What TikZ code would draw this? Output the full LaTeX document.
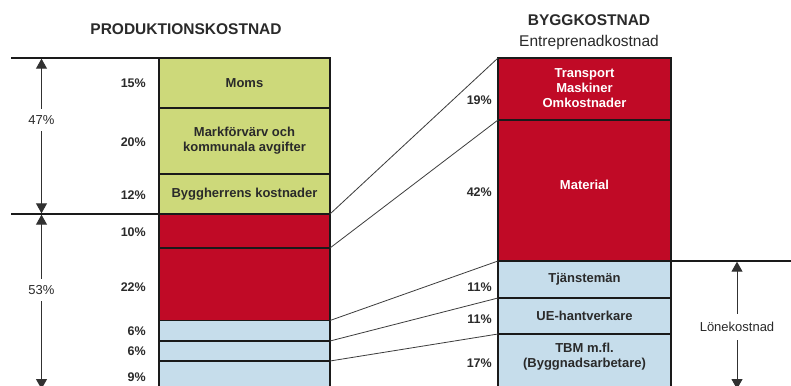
\documentclass[tikz,border=0pt]{standalone}
\usepackage{fontspec}
\setmainfont{Liberation Sans}
\usetikzlibrary{arrows.meta}
\definecolor{cgreen}{HTML}{CDD97A}
\definecolor{cred}{HTML}{C00A26}
\definecolor{cblue}{HTML}{C6DDEB}
\definecolor{cline}{HTML}{1A1A1A}
\definecolor{ctext}{HTML}{2A2A2A}
\begin{document}
\begin{tikzpicture}[x=1pt,y=-1pt,
  box/.style={draw=cline, line width=1.3pt, anchor=north west, inner sep=0pt, outer sep=0pt,
    align=center, font=\fontsize{13}{15}\selectfont\bfseries},
  lbox/.style={box, minimum width=171pt},
  rbox/.style={box, minimum width=173pt},
  gbox/.style={lbox, fill=cgreen, text=ctext},
  redl/.style={lbox, fill=cred},
  bluel/.style={lbox, fill=cblue},
  redr/.style={rbox, fill=cred, text=white},
  bluer/.style={rbox, fill=cblue, text=ctext},
  btext/.style={align=center, inner sep=0pt, text=ctext, font=\fontsize{13}{15}\selectfont\bfseries},
  pct/.style={anchor=east, inner sep=0pt, text=ctext, font=\fontsize{12.5}{14}\selectfont\bfseries},
  dimlbl/.style={fill=white, inner sep=2pt, text=ctext, font=\fontsize{13}{15}\selectfont},
  title/.style={inner sep=0pt, text=ctext, font=\fontsize{15.5}{18}\selectfont\bfseries},
  subtitle/.style={inner sep=0pt, text=ctext, font=\fontsize{15.5}{18}\selectfont},
  hline/.style={draw=cline, line width=1.3pt},
  conn/.style={draw=cline!85, line width=0.8pt},
  dimarr/.style={draw=cline!90, line width=1pt, {Triangle[width=11pt,length=10pt]}-{Triangle[width=11pt,length=10pt]}}
]
\clip (0,0) rectangle (791,385);
\fill[white] (0,0) rectangle (791,385);

% titles
\node[title] (t1) at (186,29) {PRODUKTIONSKOSTNAD};
\node[title] (t2) at (589,20) {BYGGKOSTNAD};
\node[subtitle] (t3) at (589,42) {Entreprenadkostnad};

% left column
\node[gbox, minimum height=50pt] (moms) at (159,58) {Moms};
\node[gbox, minimum height=66pt] (mark) at (moms.south west) {Markförvärv och\\kommunala avgifter};
\node[gbox, minimum height=40pt] (bygg) at (mark.south west) {Byggherrens kostnader};
\node[redl, minimum height=34pt] (r10) at (bygg.south west) {};
\node[redl, minimum height=72.5pt] (r22) at (r10.south west) {};
\node[bluel, minimum height=20.5pt] (b6a) at (r22.south west) {};
\node[bluel, minimum height=20pt] (b6b) at (b6a.south west) {};
\node[bluel, minimum height=40pt] (b9) at (b6b.south west) {};

% right column
\node[redr, minimum height=62pt] (trans) at (498,58) {};
\node[redr, minimum height=141pt] (mat) at (trans.south west) {};
\node[bluer, minimum height=37pt] (tjan) at (mat.south west) {Tjänstemän};
\node[bluer, minimum height=36pt] (ue) at (tjan.south west) {UE-hantverkare};
\node[bluer, minimum height=61pt] (tbm) at (ue.south west) {};
\node[btext, text=white] (transt) at (584.5,88) {Transport\\Maskiner\\Omkostnader};
\node[btext, text=white] (matt) at (584.5,185) {Material};
\node[btext] (tbmt) at (584.5,357) {TBM m.fl.\\(Byggnadsarbetare)};

% horizontal reference lines
\coordinate (h1) at (11,58);
\coordinate (h2) at (11,214);
\coordinate (h3) at (791,261);
\draw[hline] (h1) -- (moms.north east);
\draw[hline] (h2) -- (bygg.south east);
\draw[hline] (tjan.north east) -- (h3);

% connectors
\draw[conn] (bygg.south east) -- (trans.north west);
\draw[conn] (r10.south east) -- (mat.north west);
\draw[conn] (r22.south east) -- (tjan.north west);
\draw[conn] (b6a.south east) -- (ue.north west);
\draw[conn] (b6b.south east) -- (tbm.north west);

% dimension arrows
\coordinate (a1t) at (41.5,58.7);
\coordinate (a1b) at (41.5,213.3);
\coordinate (a2t) at (41.5,214.7);
\coordinate (a2b) at (41.5,389);
\coordinate (a3t) at (737,261.7);
\coordinate (a3b) at (737,389);
\draw[dimarr] (a1t) -- (a1b);
\draw[dimarr] (a2t) -- (a2b);
\draw[dimarr] (a3t) -- (a3b);
\node[dimlbl, inner ysep=6pt] (p47) at (41.5,120) {47\%};
\node[dimlbl, inner ysep=6pt] (p53) at (41.5,290) {53\%};
\node[dimlbl, inner ysep=8pt] (plon) at (737,327) {Lönekostnad};

% percent labels left
\node[pct] (l15) at (146,83) {15\%};
\node[pct] (l20) at (146,142) {20\%};
\node[pct] (l12) at (146,195) {12\%};
\node[pct] (l10) at (146,232) {10\%};
\node[pct] (l22) at (146,287) {22\%};
\node[pct] (l6a) at (146,331) {6\%};
\node[pct] (l6b) at (146,351) {6\%};
\node[pct] (l9) at (146,377) {9\%};

% percent labels right
\node[pct] (r19) at (492,100) {19\%};
\node[pct] (r42) at (492,192) {42\%};
\node[pct] (r11a) at (492,287) {11\%};
\node[pct] (r11b) at (492,319) {11\%};
\node[pct] (r17) at (492,363) {17\%};
\end{tikzpicture}
\end{document}
